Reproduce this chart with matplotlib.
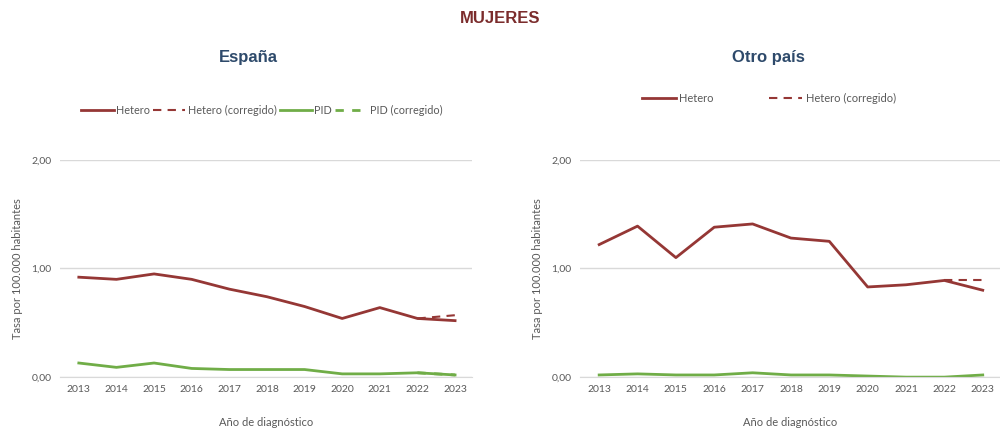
import numpy as np
import matplotlib.pyplot as plt

plt.rcParams['font.family'] = ['Lato', 'DejaVu Sans']

anios = [2013, 2014, 2015, 2016, 2017, 2018, 2019, 2020, 2021, 2022, 2023]

# España
esp_hetero = [0.92, 0.90, 0.95, 0.90, 0.81, 0.74, 0.65, 0.54, 0.64, 0.54, 0.52]
esp_hetero_corr = [0.54, 0.57]
esp_pid = [0.13, 0.09, 0.13, 0.08, 0.07, 0.07, 0.07, 0.03, 0.03, 0.04, 0.02]
esp_pid_corr = [0.04, 0.02]

# Otro país
otro_hetero = [1.22, 1.39, 1.10, 1.38, 1.41, 1.28, 1.25, 0.83, 0.85, 0.89, 0.80]
otro_hetero_corr = [0.89, 0.89]
otro_pid = [0.02, 0.03, 0.02, 0.02, 0.04, 0.02, 0.02, 0.01, 0.00, 0.00, 0.02]

rojo = '#953735'
verde = '#70AD47'
gris = '#595959'

fig = plt.figure(figsize=(10, 4.32), dpi=100)
fig.text(0.5, 0.958, 'MUJERES', ha='center', va='center', fontsize=12,
         fontweight='bold', color='#7B2C2C', family='Liberation Sans')


def panel(ax, hetero, hetero_corr, pid, pid_corr):
    ax.plot(anios, hetero, color=rojo, lw=2, label='Hetero')
    ax.plot(anios[-2:], hetero_corr, color=rojo, lw=1.5, ls=(0, (4, 3)),
            label='Hetero (corregido)')
    if pid_corr is not None:
        ax.plot(anios, pid, color=verde, lw=2, label='PID')
        ax.plot(anios[-2:], pid_corr, color=verde, lw=2, ls=(0, (3, 3)),
                label='PID (corregido)')
    else:
        ax.plot(anios, pid, color=verde, lw=2)
    ax.set_xlim(2012.5, 2023.45)
    ax.set_ylim(0, 2)
    ax.set_yticks([0, 1, 2])
    ax.set_yticklabels(['0,00', '1,00', '2,00'])
    ax.set_xticks(anios)
    ax.grid(axis='y', color='#D9D9D9', lw=1)
    ax.set_axisbelow(True)
    for s in ['top', 'right', 'left']:
        ax.spines[s].set_visible(False)
    ax.spines['bottom'].set_color('#D9D9D9')
    ax.tick_params(length=0, labelsize=7.5, colors=gris, pad=6)
    ax.set_ylabel('Tasa por 100.000 habitantes', fontsize=8, color=gris,
                  labelpad=6)
    ax.set_xlabel('Año de diagnóstico', fontsize=8, color=gris, labelpad=16)


ax1 = fig.add_axes([0.06, 0.127, 0.412, 0.503])
panel(ax1, esp_hetero, esp_hetero_corr, esp_pid, esp_pid_corr)
ax1.legend(loc='center', bbox_to_anchor=(0.49, 1.229), ncol=4, frameon=False,
           fontsize=7.8, labelcolor=gris, handlelength=3, columnspacing=0.3,
           handletextpad=0.2)
fig.text(0.248, 0.866, 'España', ha='center', va='center', fontsize=12,
         fontweight='bold', color='#2E4A6B', family='Liberation Sans')

ax2 = fig.add_axes([0.58, 0.127, 0.42, 0.503])
panel(ax2, otro_hetero, otro_hetero_corr, otro_pid, None)
ax2.legend(loc='center', bbox_to_anchor=(0.45, 1.284), ncol=2, frameon=False,
           fontsize=8, labelcolor=gris, handlelength=3, columnspacing=5,
           handletextpad=0.3)
fig.text(0.768, 0.866, 'Otro país', ha='center', va='center', fontsize=12,
         fontweight='bold', color='#2E4A6B', family='Liberation Sans')

fig.savefig('out.png', dpi=100, facecolor='white')
